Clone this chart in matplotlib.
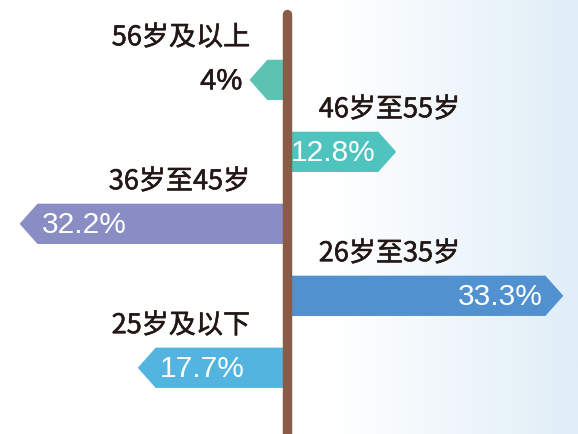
import numpy as np
import matplotlib
matplotlib.use('Agg')
import matplotlib.pyplot as plt
import matplotlib.patheffects as pe
from matplotlib.patches import Polygon
from matplotlib.colors import LinearSegmentedColormap

plt.rcParams['font.family'] = ['Noto Sans CJK SC', 'DejaVu Sans']

# -----------------------------
# data (top to bottom)
# -----------------------------
groups = ['56岁及以上', '46岁至55岁', '36岁至45岁', '26岁至35岁', '25岁及以下']
shares = [4, 12.8, 32.2, 33.3, 17.7]
sides = [-1, 1, -1, 1, -1]   # -1 = sign points left, 1 = right
colors = ['#5cc2b1', '#4fc4bf', '#8a8cc4', '#5291d0', '#53b4df']

XMIN, XMAX = -35.2, 35.7
YTOP, YBOT = -1.11, 4.92
DARK = '#231815'

fig = plt.figure(figsize=(5.78, 4.34), dpi=100)
ax = fig.add_axes([0, 0, 1, 1])

# background: white fading to pale blue on the right
grad = np.linspace(0, 1, 400)
grad = np.clip((grad - 0.58) / 0.42, 0, 1)
bg = LinearSegmentedColormap.from_list('bg', ['#ffffff', '#e0eef8'])
ax.imshow(grad[None, :], extent=[XMIN, XMAX, YBOT, YTOP], aspect='auto', cmap=bg, zorder=0)

# slightly heavier than regular for the dark text
thick = [pe.withStroke(linewidth=0.4, foreground=DARK)]

w = 0.6     # half width of the pole
h = 0.28    # half height of a sign
tip = 2.2   # length of the arrow point
for i, (g, v, s, c) in enumerate(zip(groups, shares, sides, colors)):
    end = w + v
    pts = [(0, i - h), (s * (end - tip), i - h), (s * end, i), (s * (end - tip), i + h), (0, i + h)]
    ax.add_patch(Polygon(pts, closed=True, facecolor=c, edgecolor='none', zorder=2))

    txt = f'{v:g}%'
    if v < 8:
        # too small, value goes outside the sign
        ax.text(-(end + 0.9), i + 0.02, txt, ha='right', va='center', fontsize=21,
                color=DARK, family=['Liberation Sans'], path_effects=thick, zorder=4)
    elif s < 0:
        ax.text(-end + 2.7, i + 0.02, txt, ha='left', va='center', fontsize=21.5,
                color='white', family=['Liberation Sans'], zorder=4)
    else:
        ax.text(end - 2.5, i + 0.02, txt, ha='right', va='center', fontsize=21.5,
                color='white', family=['Liberation Sans'], zorder=4)

    if s < 0:
        ax.text(-4.5, i - 0.585, g, ha='right', va='center', fontsize=19.5,
                color=DARK, path_effects=thick, zorder=4)
    else:
        ax.text(3.9, i - 0.585, g, ha='left', va='center', fontsize=19.5,
                color=DARK, path_effects=thick, zorder=4)

# the pole
ax.plot([0, 0], [-0.92, YBOT + 0.2], color='#8a5c48', linewidth=6.8,
        solid_capstyle='round', zorder=3)

ax.set_xlim(XMIN, XMAX)
ax.set_ylim(YBOT, YTOP)
ax.axis('off')

plt.savefig('out.png', dpi=100)
